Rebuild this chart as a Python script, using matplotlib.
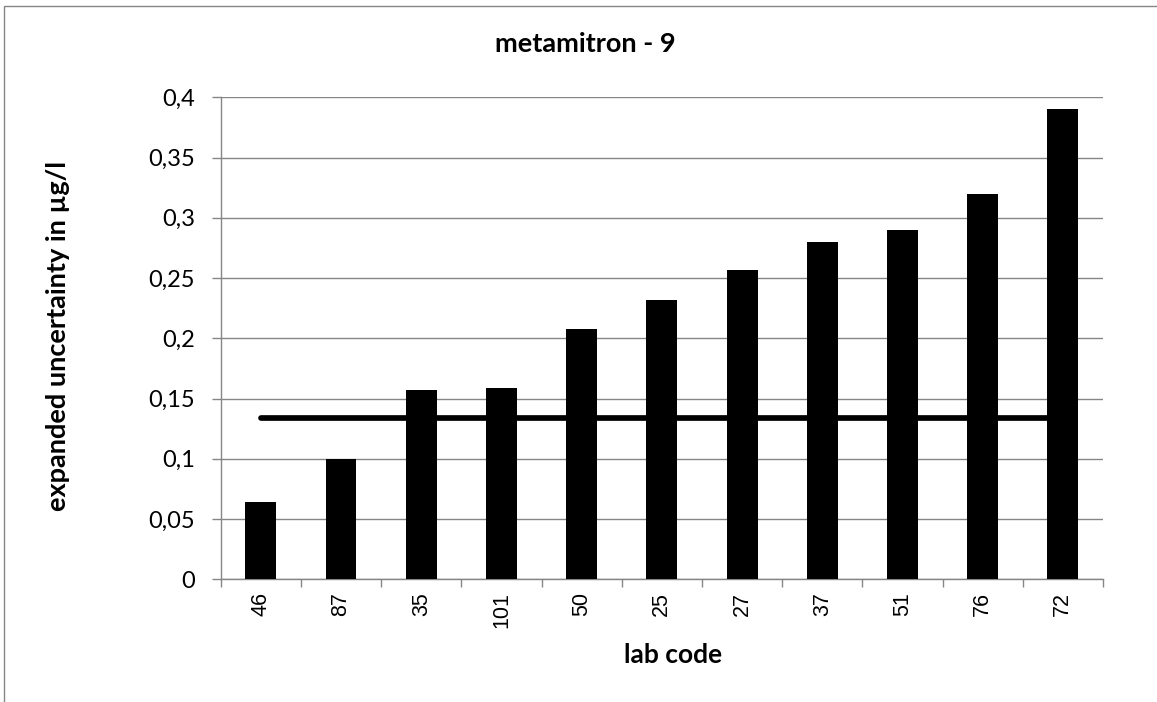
import matplotlib
matplotlib.use("Agg")
import matplotlib.pyplot as plt
from matplotlib.patches import Rectangle

lab_codes = ["46", "87", "35", "101", "50", "25", "27", "37", "51", "76", "72"]
uncertainty = [0.064, 0.100, 0.157, 0.159, 0.208, 0.232, 0.257, 0.280, 0.290, 0.320, 0.390]
reference_level = 0.134
y_ticks = [0, 0.05, 0.1, 0.15, 0.2, 0.25, 0.3, 0.35, 0.4]
y_tick_labels = ["0", "0,05", "0,1", "0,15", "0,2", "0,25", "0,3", "0,35", "0,4"]

grey = "#868686"
font = "Lato"

fig = plt.figure(figsize=(11.57, 7.02), dpi=100)
fig.patches.append(Rectangle((4 / 1157, -0.1), 1.2, 1 - 6 / 702 + 0.1, transform=fig.transFigure,
                             fill=False, edgecolor=grey, linewidth=1))
ax = fig.add_axes([0.1908, 0.1748, 0.9533 - 0.1908, 0.8614 - 0.1748])

x = list(range(len(lab_codes)))
ax.bar(x, uncertainty, width=0.385, color="black", zorder=3)
ax.plot([x[0], x[-1]], [reference_level, reference_level], color="black", linewidth=4.1,
        solid_capstyle="round", zorder=2)

ax.set_xlim(-0.5, len(lab_codes) - 0.5)
ax.set_ylim(0, 0.4)
ax.set_yticks(y_ticks)
ax.set_yticklabels(y_tick_labels, fontfamily=font, fontsize=17)
ax.set_xticks([i - 0.5 for i in range(len(lab_codes) + 1)], minor=False)
ax.set_xticklabels([])
ax.set_xticks(x, minor=True)
ax.set_xticklabels(lab_codes, minor=True, rotation=90, fontfamily="Liberation Sans", fontsize=15.5)
ax.tick_params(axis="x", which="major", length=6, color=grey, width=1)
ax.tick_params(axis="x", which="minor", length=0, pad=9)
ax.tick_params(axis="y", length=6.5, color=grey, width=1, pad=12)

ax.grid(axis="y", color=grey, linewidth=1, zorder=0)
ax.set_axisbelow(True)
for s in ["top", "right"]:
    ax.spines[s].set_visible(False)
for s in ["left", "bottom"]:
    ax.spines[s].set_color(grey)
    ax.spines[s].set_linewidth(1)

fig.text(0.506, 1 - 44 / 702, "metamitron - 9", ha="center", va="center", fontfamily=font,
         fontweight="bold", fontsize=19.5)
fig.text(0.050, 1 - 336 / 702, "expanded uncertainty in µg/l", ha="center", va="center",
         rotation=90, fontfamily=font, fontweight="bold", fontsize=19.5)
fig.text(0.582, 1 - 655 / 702, "lab code", ha="center", va="center", fontfamily=font,
         fontweight="bold", fontsize=19)

fig.savefig("out.png", dpi=100)
